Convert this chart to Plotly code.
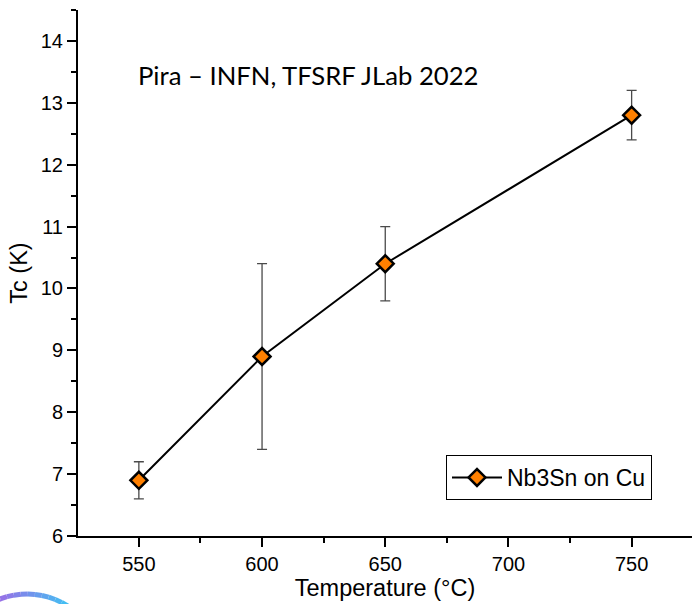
import plotly.graph_objects as go
import numpy as np

temperature = [550, 600, 650, 750]
tc = [6.9, 8.9, 10.4, 12.8]
tc_err = [0.3, 1.5, 0.6, 0.4]
series_name = "Nb3Sn on Cu"
note_text = "Pira – INFN, TFSRF JLab 2022"
x_title = "Temperature (°C)"
y_title = "Tc (K)"
x_ticks = [550, 600, 650, 700, 750]
x_minor = [575, 625, 675, 725]
y_ticks = [6, 7, 8, 9, 10, 11, 12, 13, 14]
y_minor = [6.5, 7.5, 8.5, 9.5, 10.5, 11.5, 12.5, 13.5, 14.5]

fig = go.Figure()
fig.add_trace(go.Scatter(
    x=temperature, y=tc, name=series_name, mode="lines+markers",
    line=dict(color="black", width=2),
    marker=dict(symbol="diamond", size=13, color="#FF8000",
                line=dict(color="black", width=2.5)),
    error_y=dict(type="data", array=tc_err, visible=True,
                 color="#4a4a4a", thickness=1.3, width=5),
    showlegend=True,
))

sans = "Liberation Sans, Arial"
axis_font = dict(family=sans, size=20, color="black")
fig.update_layout(
    width=692, height=604,
    margin=dict(l=78, r=0, t=10, b=68),
    paper_bgcolor="white", plot_bgcolor="white",
    showlegend=True,
    legend=dict(x=(446 - 78) / 614, y=(536 - 455) / 526, xanchor="left", yanchor="top",
                bordercolor="black", borderwidth=1, bgcolor="white",
                font=dict(family=sans, size=23, color="black"),
                itemwidth=50, tracegroupgap=0),
    xaxis=dict(range=[525.3, 774.5], showline=True, linecolor="black", linewidth=2,
               ticks="outside", ticklen=9, tickwidth=2, tickcolor="black",
               tickvals=x_ticks, showgrid=False, zeroline=False,
               tickfont=axis_font,
               minor=dict(tickvals=x_minor, ticks="outside", ticklen=5,
                          tickwidth=2, tickcolor="black", showgrid=False),
               title=dict(text=x_title, font=dict(family=sans, size=23.5, color="black"), standoff=3)),
    yaxis=dict(range=[6, 14.5], showline=True, linecolor="black", linewidth=2,
               ticks="outside", ticklen=9, tickwidth=2, tickcolor="black",
               tickvals=y_ticks, showgrid=False, zeroline=False,
               tickfont=axis_font,
               minor=dict(tickvals=y_minor, ticks="outside",
                          ticklen=5, tickwidth=2, tickcolor="black", showgrid=False),
               title=dict(text=y_title, font=dict(family=sans, size=23.5, color="black"), standoff=7)),
)

fig.add_annotation(text=note_text, xref="paper", yref="paper",
                   x=(136 - 78) / 614, y=(536 - 75) / 526, xanchor="left", yanchor="middle",
                   showarrow=False, font=dict(family="Lato, Open Sans", size=25.7, color="black"))

# decorative arc fragment at bottom-left (logo edge)
def px(X):
    return (X - 78) / 614
def py(Y):
    return (536 - Y) / 526
c0 = np.array([0x9c, 0x6c, 0xe6])
c1 = np.array([0x3c, 0xc6, 0xf4])
n = 12
t = np.radians(np.linspace(-116, -52, n + 1))
cx, cy, R = 27, 669.4, 75.4
for i in range(n):
    f = i / (n - 1)
    c = (c0 * (1 - f) + c1 * f).astype(int)
    col = "#%02x%02x%02x" % tuple(c)
    a0, a1 = t[i], t[i + 1]
    x0, y0 = cx + R * np.cos(a0), cy + R * np.sin(a0)
    x1, y1 = cx + R * np.cos(a1), cy + R * np.sin(a1)
    fig.add_shape(type="line", xref="paper", yref="paper",
                  x0=px(x0), y0=py(y0), x1=px(x1), y1=py(y1),
                  line=dict(color=col, width=5))

fig.write_html("out.html", config={"displayModeBar": False},
               post_script="document.body.style.margin='0';")
